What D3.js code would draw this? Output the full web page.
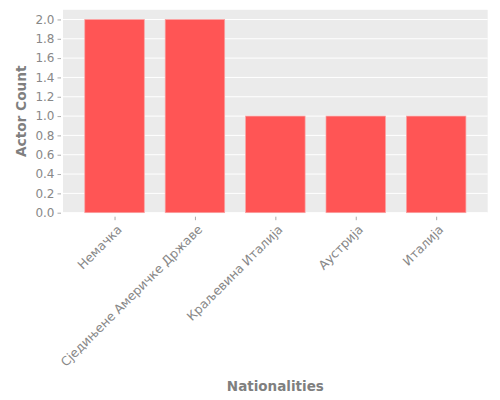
<!DOCTYPE html>
<html><head><meta charset="utf-8">
<script src="https://cdn.jsdelivr.net/npm/d3@7"></script>
<style>body{margin:0;background:#fff}svg{display:block}text{font-family:"DejaVu Sans",sans-serif}</style>
</head><body><svg id="c" width="500" height="400"></svg>
<script>
const categories = ["Немачка","Сједињене Америчке Државе","Краљевина Италија","Аустрија","Италија"];
const actorCounts = [2,2,1,1,1];
const yTicks = [0,0.2,0.4,0.6,0.8,1.0,1.2,1.4,1.6,1.8,2.0];
const xTitle = "Nationalities";
const yTitle = "Actor Count";

const svg = d3.select("#c");
const L=63, R=487.7, T=9.8, B=212.7;
const x = d3.scalePoint().domain(categories).range([L,R]).padding(0.641);
const bw = x.step()*0.74;
const y = d3.scaleLinear().domain([0,2.1]).range([B,T]);

svg.append("rect").attr("x",L).attr("y",T).attr("width",R-L).attr("height",B-T).attr("fill","#ebebeb");
svg.append("g").selectAll("line").data(yTicks).join("line")
  .attr("x1",L).attr("x2",R).attr("y1",d=>y(d)).attr("y2",d=>y(d))
  .attr("stroke","#fff").attr("stroke-width",1);

svg.append("g").selectAll("rect").data(categories).join("rect")
  .attr("x",d=>x(d)-bw/2).attr("width",bw)
  .attr("y",(d,i)=>y(actorCounts[i])).attr("height",(d,i)=>B-y(actorCounts[i]))
  .attr("fill","#ff5555").attr("stroke","#f9a3a3").attr("stroke-width",0.7);

const yAxis = svg.append("g").attr("transform",`translate(${L-2},0)`)
  .call(d3.axisLeft(y).tickValues(yTicks).tickFormat(d3.format(".1f")).tickSize(3.5).tickPadding(3));
yAxis.select(".domain").remove();
yAxis.selectAll("line").attr("stroke","#aaa");
yAxis.selectAll("text").attr("fill","#888").style("font-size","12px").style("font-family","DejaVu Sans");

const xAxis = svg.append("g").attr("transform",`translate(0,${B+4})`)
  .call(d3.axisBottom(x).tickSize(3.5).tickPadding(0));
xAxis.select(".domain").remove();
xAxis.selectAll("line").attr("stroke","#aaa");
xAxis.selectAll("text").attr("fill","#888").style("font-size","12.4px").style("font-family","DejaVu Sans")
  .attr("text-anchor","end").attr("dy",null).attr("y",null)
  .attr("transform","translate(1,7) rotate(-45)").attr("dy","0.75em");

svg.append("text").attr("x",(L+R)/2).attr("y",391).attr("text-anchor","middle")
  .attr("fill","#7f7f7f").style("font-size","13.5px").style("font-weight","bold").text(xTitle);
svg.append("text").attr("transform",`translate(26,${(T+B)/2}) rotate(-90)`).attr("text-anchor","middle")
  .attr("fill","#7f7f7f").style("font-size","13.7px").style("font-weight","bold").text(yTitle);
</script></body></html>
